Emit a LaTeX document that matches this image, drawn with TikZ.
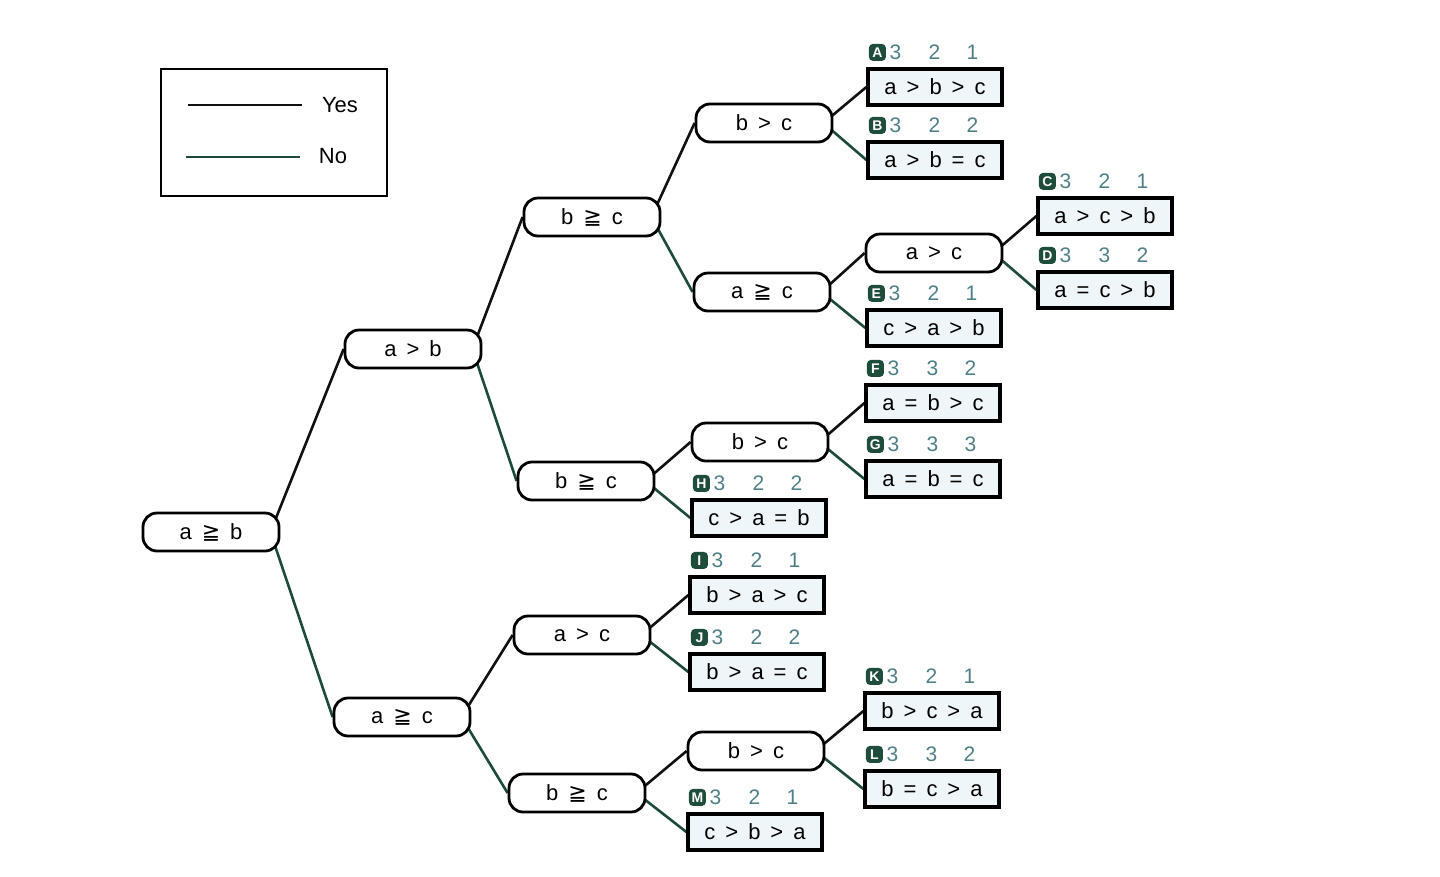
\documentclass[tikz,border=0pt]{standalone}
\usepackage{fontspec}
\setmainfont{Liberation Sans}
\newfontfamily\symfont{DejaVu Sans}
\usetikzlibrary{positioning}
\usetikzlibrary{calc}
\usetikzlibrary{backgrounds}
\definecolor{yescolor}{HTML}{111111}
\definecolor{nocolor}{HTML}{1D4A3C}
\definecolor{leafcolor}{HTML}{EEF6F9}
\definecolor{tagcolor}{HTML}{1F4D3B}
\definecolor{scorecolor}{HTML}{4F7F86}
\newcommand\nodefont{\fontsize{22}{26}\selectfont\spaceskip=10pt\relax}
\newcommand\gee{{\symfont ≧}}
\tikzstyle{decision} = [rectangle, rounded corners=14pt,
    minimum width=136pt,
    minimum height=38pt,
    text centered,
    draw=black, line width=2.8pt,
    fill=white,
    font=\nodefont]
\tikzstyle{outcome} = [rectangle,
    minimum width=134pt,
    minimum height=36pt,
    text centered,
    draw=black, line width=3.2pt,
    fill=leafcolor,
    font=\nodefont]
\tikzstyle{yes} = [line width=2.6pt, draw=yescolor]
\tikzstyle{no} = [line width=2.6pt, draw=nocolor]
\tikzstyle{tag} = [rectangle, rounded corners=4pt, fill=tagcolor, text=white,
    minimum size=17pt, inner sep=0pt, font=\fontsize{14}{14}\selectfont\bfseries]
\tikzstyle{score} = [inner sep=0pt, text=scorecolor, font=\fontsize{21}{21}\selectfont]
\newcommand\outcomelabel[5]{%
  \node[tag] (#1tag) at ($(#1.north west)+(11pt,15pt)$) {#2};
  \node[score] (#1one) at ($(#1.north west)+(29pt,15pt)$) {#3};
  \node[score] (#1two) at ($(#1.north west)+(68pt,15pt)$) {#4};
  \node[score] (#1three) at ($(#1.north west)+(106pt,15pt)$) {#5};}

\begin{document}
\begin{tikzpicture}[x=1pt, y=-1pt, on grid]
\useasboundingbox (0,0) rectangle (1440,876);

% legend
\node (legend) [draw, line width=2pt, minimum width=226pt, minimum height=127pt] at (274,132) {};
\coordinate (yesA) at (188,105);
\coordinate (yesB) at (302,105);
\coordinate (noA) at (186,157);
\coordinate (noB) at (300,157);
\node (yesText) [font=\nodefont] at (340,105) {Yes};
\node (noText) [font=\nodefont] at (333,156) {No};
\draw [yes] (yesA) -- (yesB);
\draw [no] (noA) -- (noB);

% decisions
\node (aGeqb) [decision] at (211,532) {a \gee{} b};
\node (aGtb) [decision, above right=183pt and 202pt of aGeqb] {a > b};
\node (aGeqcLow) [decision, below right=185pt and 191pt of aGeqb] {a \gee{} c};
\node (bGeqcTop) [decision, above right=132pt and 179pt of aGtb] {b \gee{} c};
\node (bGeqcMid) [decision, below right=132pt and 173pt of aGtb] {b \gee{} c};
\node (aGtcLow) [decision, above right=82pt and 180pt of aGeqcLow] {a > c};
\node (bGeqcLow) [decision, below right=76pt and 175pt of aGeqcLow] {b \gee{} c};
\node (bGtcTop) [decision, above right=94pt and 172pt of bGeqcTop] {b > c};
\node (aGeqcTop) [decision, below right=75pt and 170pt of bGeqcTop] {a \gee{} c};
\node (aGtcTop) [decision, above right=39pt and 172pt of aGeqcTop] {a > c};
\node (bGtcMid) [decision, above right=39pt and 174pt of bGeqcMid] {b > c};
\node (bGtcLow) [decision, above right=42pt and 179pt of bGeqcLow] {b > c};

% outcomes
\node (resA) [outcome, above right=36pt and 171pt of bGtcTop] {a > b > c};
\node (resB) [outcome, below right=37pt and 171pt of bGtcTop] {a > b = c};
\node (resC) [outcome, above right=37pt and 171pt of aGtcTop] {a > c > b};
\node (resD) [outcome, below right=37pt and 171pt of aGtcTop] {a = c > b};
\node (resE) [outcome, below right=36pt and 172pt of aGeqcTop] {c > a > b};
\node (resF) [outcome, above right=39pt and 173pt of bGtcMid] {a = b > c};
\node (resG) [outcome, below right=37pt and 173pt of bGtcMid] {a = b = c};
\node (resH) [outcome, below right=37pt and 173pt of bGeqcMid] {c > a = b};
\node (resI) [outcome, above right=40pt and 175pt of aGtcLow] {b > a > c};
\node (resJ) [outcome, below right=37pt and 175pt of aGtcLow] {b > a = c};
\node (resK) [outcome, above right=40pt and 176pt of bGtcLow] {b > c > a};
\node (resL) [outcome, below right=38pt and 176pt of bGtcLow] {b = c > a};
\node (resM) [outcome, below right=39pt and 178pt of bGeqcLow] {c > b > a};

\outcomelabel{resA}{A}{3}{2}{1}
\outcomelabel{resB}{B}{3}{2}{2}
\outcomelabel{resC}{C}{3}{2}{1}
\outcomelabel{resD}{D}{3}{3}{2}
\outcomelabel{resE}{E}{3}{2}{1}
\outcomelabel{resF}{F}{3}{3}{2}
\outcomelabel{resG}{G}{3}{3}{3}
\outcomelabel{resH}{H}{3}{2}{2}
\outcomelabel{resI}{I}{3}{2}{1}
\outcomelabel{resJ}{J}{3}{2}{2}
\outcomelabel{resK}{K}{3}{2}{1}
\outcomelabel{resL}{L}{3}{3}{2}
\outcomelabel{resM}{M}{3}{2}{1}

\begin{scope}[on background layer]
\draw [yes] ([xshift=-10pt]aGeqb.east) -- (aGtb.west);
\draw [no] ([xshift=-10pt]aGeqb.east) -- (aGeqcLow.west);
\draw [yes] ([xshift=-10pt]aGtb.east) -- (bGeqcTop.west);
\draw [no] ([xshift=-10pt]aGtb.east) -- (bGeqcMid.west);
\draw [yes] ([xshift=-10pt]bGeqcTop.east) -- (bGtcTop.west);
\draw [no] ([xshift=-10pt]bGeqcTop.east) -- (aGeqcTop.west);
\draw [yes] ([xshift=-10pt]bGtcTop.east) -- (resA.west);
\draw [no] ([xshift=-10pt]bGtcTop.east) -- (resB.west);
\draw [yes] ([xshift=-10pt]aGeqcTop.east) -- (aGtcTop.west);
\draw [no] ([xshift=-10pt]aGeqcTop.east) -- (resE.west);
\draw [yes] ([xshift=-10pt]aGtcTop.east) -- (resC.west);
\draw [no] ([xshift=-10pt]aGtcTop.east) -- (resD.west);
\draw [yes] ([xshift=-10pt]bGeqcMid.east) -- (bGtcMid.west);
\draw [no] ([xshift=-10pt]bGeqcMid.east) -- (resH.west);
\draw [yes] ([xshift=-10pt]bGtcMid.east) -- (resF.west);
\draw [no] ([xshift=-10pt]bGtcMid.east) -- (resG.west);
\draw [yes] ([xshift=-10pt]aGeqcLow.east) -- (aGtcLow.west);
\draw [no] ([xshift=-10pt]aGeqcLow.east) -- (bGeqcLow.west);
\draw [yes] ([xshift=-10pt]aGtcLow.east) -- (resI.west);
\draw [no] ([xshift=-10pt]aGtcLow.east) -- (resJ.west);
\draw [yes] ([xshift=-10pt]bGeqcLow.east) -- (bGtcLow.west);
\draw [no] ([xshift=-10pt]bGeqcLow.east) -- (resM.west);
\draw [yes] ([xshift=-10pt]bGtcLow.east) -- (resK.west);
\draw [no] ([xshift=-10pt]bGtcLow.east) -- (resL.west);
\end{scope}

\end{tikzpicture}
\end{document}
